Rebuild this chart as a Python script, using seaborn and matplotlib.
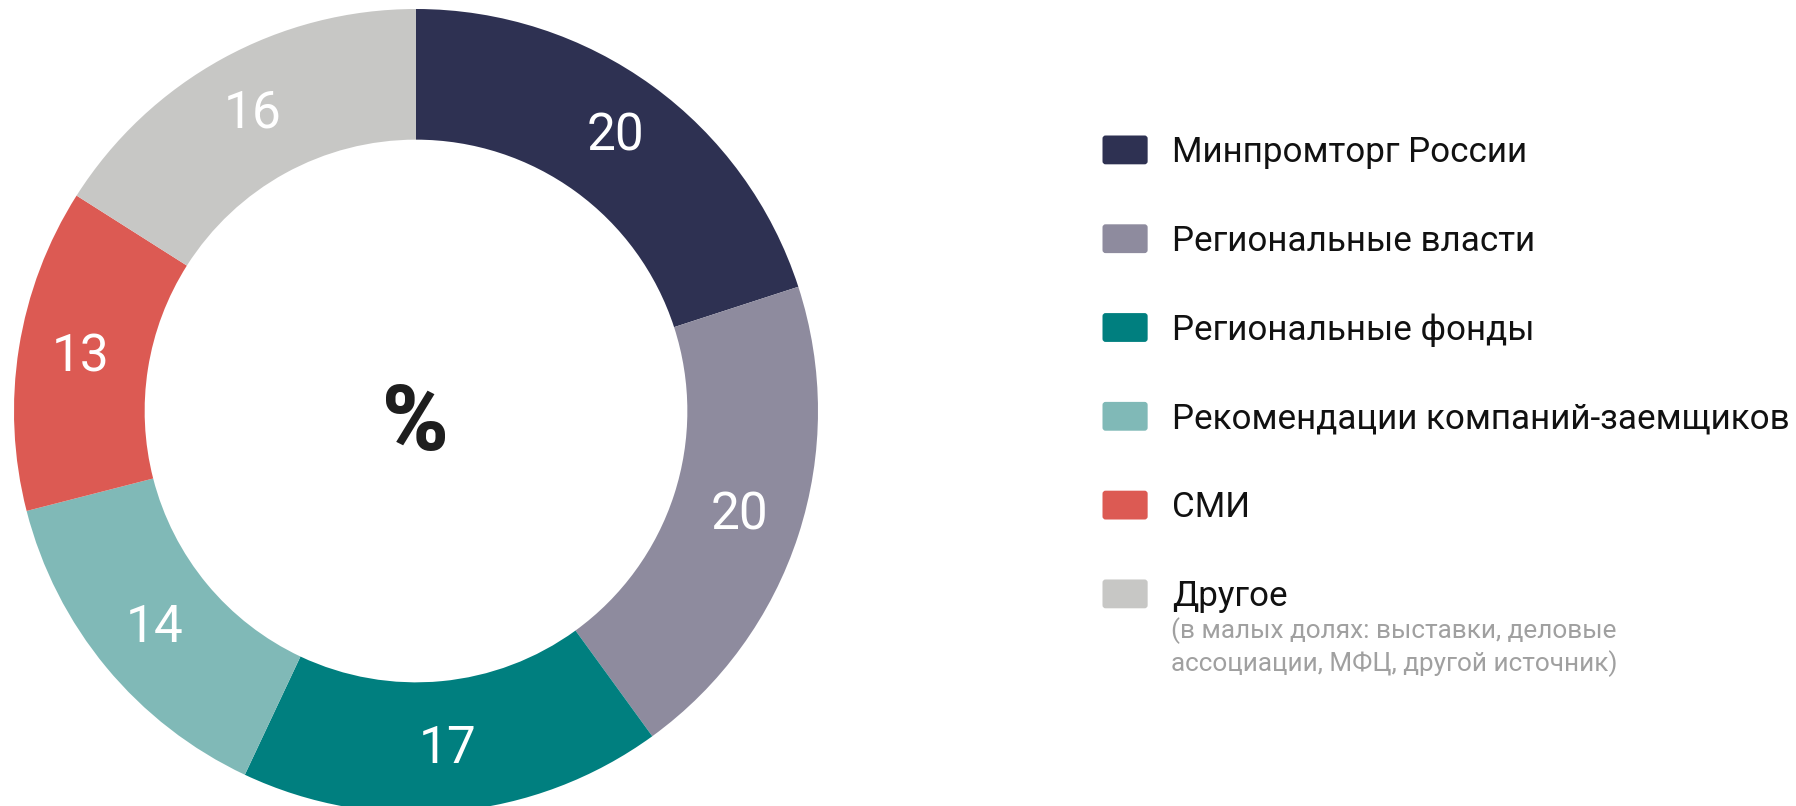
import matplotlib
matplotlib.use("Agg")
import numpy as np
import matplotlib.pyplot as plt
import seaborn as sns
from matplotlib.legend_handler import HandlerPatch
from matplotlib.patches import FancyBboxPatch

# Data
categories = ["Минпромторг России", "Региональные власти", "Региональные фонды",
              "Рекомендации компаний-заемщиков", "СМИ", "Другое"]
values = [20, 20, 17, 14, 13, 16]
colors = ["#2e3152", "#8e8b9e", "#007f7f", "#80b9b7", "#dc5a53", "#c7c7c5"]
note = "(в малых долях: выставки, деловые\nассоциации, МФЦ, другой источник)"


class RoundSquare(HandlerPatch):
    # legend swatch with slightly rounded corners
    def create_artists(self, legend, orig_handle, xdescent, ydescent,
                       width, height, fontsize, trans):
        r = 2.2
        p = FancyBboxPatch((-xdescent + r, -ydescent + r), width - 2 * r, height - 2 * r,
                           boxstyle=f"round,pad={r}", facecolor=orig_handle.get_facecolor(),
                           edgecolor="none", transform=trans)
        return [p]


sns.set_theme(style="white")
plt.rcParams["font.family"] = ["Roboto", "DejaVu Sans"]

fig = plt.figure(figsize=(17.96, 8.06), dpi=100)
# donut axes: center ~ (416, 411) px from top-left, radius ~402 px
ax = fig.add_axes([14 / 1796, -7 / 806, 804 / 1796, 804 / 806])

palette = sns.color_palette(colors)
wedges, _ = ax.pie(values, colors=palette, startangle=90, counterclock=False,
                   radius=1, wedgeprops=dict(width=0.325, linewidth=0))
ax.set_xlim(-1, 1)
ax.set_ylim(-1, 1)
ax.set_aspect("equal")

# value labels in the middle of the ring
total = sum(values)
start = 90.0
for v in values:
    mid = np.deg2rad(start - v / total * 360 / 2)
    r = 0.845
    ax.text(r * np.cos(mid), r * np.sin(mid), str(v), ha="center", va="center",
            color="white", fontsize=37, fontweight="normal")
    start -= v / total * 360

ax.text(0, -0.035, "%", ha="center", va="center", fontsize=65,
        fontweight="black", color="#1e1e1e")

leg = fig.legend(wedges, categories, loc="upper left",
                 bbox_to_anchor=(1071 / 1796, 1 - 104 / 806),
                 frameon=False, fontsize=25.2, handlelength=1.29,
                 handleheight=0.89, labelspacing=1.58, handletextpad=0.7,
                 handler_map={w: RoundSquare() for w in wedges})
for t in leg.get_texts():
    t.set_color("#111111")

fig.text(1171 / 1796, 1 - 617 / 806, note, ha="left", va="top",
         fontsize=18.8, color="#a0a0a0", linespacing=1.3)

fig.savefig("out.png", dpi=100)
